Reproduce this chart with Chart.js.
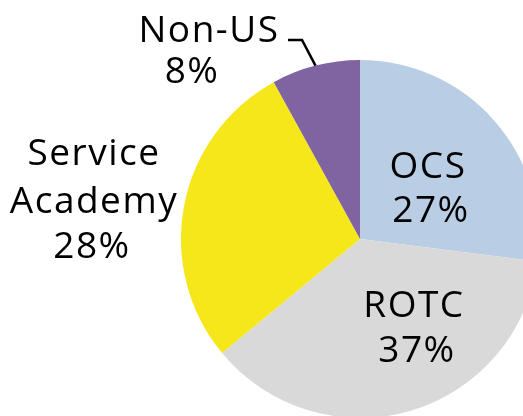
<!DOCTYPE html>
<html>
<head>
<meta charset="utf-8">
<script src="https://cdn.jsdelivr.net/npm/chart.js@4"></script>
<style>
html,body{margin:0;padding:0;background:#fff;overflow:hidden;width:523px;height:416px;}
#c{position:absolute;left:0;top:0;}
</style>
</head>
<body>
<canvas id="c" width="600" height="500"></canvas>
<script>
const categories = ["OCS", "ROTC", "Service Academy", "Non-US"];
const values = [27, 37, 28, 8];
const colors = ["#B9CDE5", "#D9D9D9", "#F5E71A", "#8064A2"];

// label layout: lines, [dx, dy] of each baseline relative to pie centre (in px)
const labelLines = [
  [["OCS", 68, -61], ["{p}", 71, -17]],
  [["ROTC", 54, 78], ["{p}", 57, 123]],
  [["Service", -266, -74], ["Academy", -266, -26], ["{p}", -268, 19]],
  [["Non-US", -151, -197], ["{p}", -168, -156]]
];

const labelPlugin = {
  id: 'labels',
  afterDatasetsDraw(chart) {
    const ctx = chart.ctx;
    const meta = chart.getDatasetMeta(0);
    const arc0 = meta.data[0];
    const cx = arc0.x, cy = arc0.y, r = arc0.outerRadius;
    const total = values.reduce((a, b) => a + b, 0);
    ctx.save();
    // leader line for Non-US
    ctx.strokeStyle = '#000';
    ctx.lineWidth = 2.5;
    ctx.beginPath();
    const nu = meta.data[3];
    const midA = (nu.startAngle + nu.endAngle) / 2;
    const ex = cx + Math.cos(midA) * r, ey = cy + Math.sin(midA) * r;
    ctx.moveTo(cx - 72, cy - 199);
    ctx.lineTo(cx - 58, cy - 199);
    ctx.lineTo(ex, ey);
    ctx.stroke();

    ctx.fillStyle = '#000';
    ctx.font = '37px "Open Sans"';
    ctx.letterSpacing = '1.5px';
    ctx.textAlign = 'center';
    ctx.textBaseline = 'alphabetic';
    labelLines.forEach((lines, i) => {
      const pct = Math.round(values[i] / total * 100) + '%';
      lines.forEach(([t, dx, dy]) => {
        const txt = t === '{p}' ? pct : t;
        ctx.fillText(txt, cx + dx, cy + dy);
      });
    });
    ctx.restore();
  }
};

new Chart(document.getElementById('c'), {
  type: 'pie',
  data: {
    labels: categories,
    datasets: [{
      data: values,
      backgroundColor: colors,
      borderWidth: 0
    }]
  },
  options: {
    responsive: false,
    animation: false,
    devicePixelRatio: 1,
    layout: { padding: { left: 181, top: 60, right: 61, bottom: 82 } },
    plugins: { legend: { display: false }, tooltip: { enabled: false } }
  },
  plugins: [labelPlugin]
});
</script>
</body>
</html>
